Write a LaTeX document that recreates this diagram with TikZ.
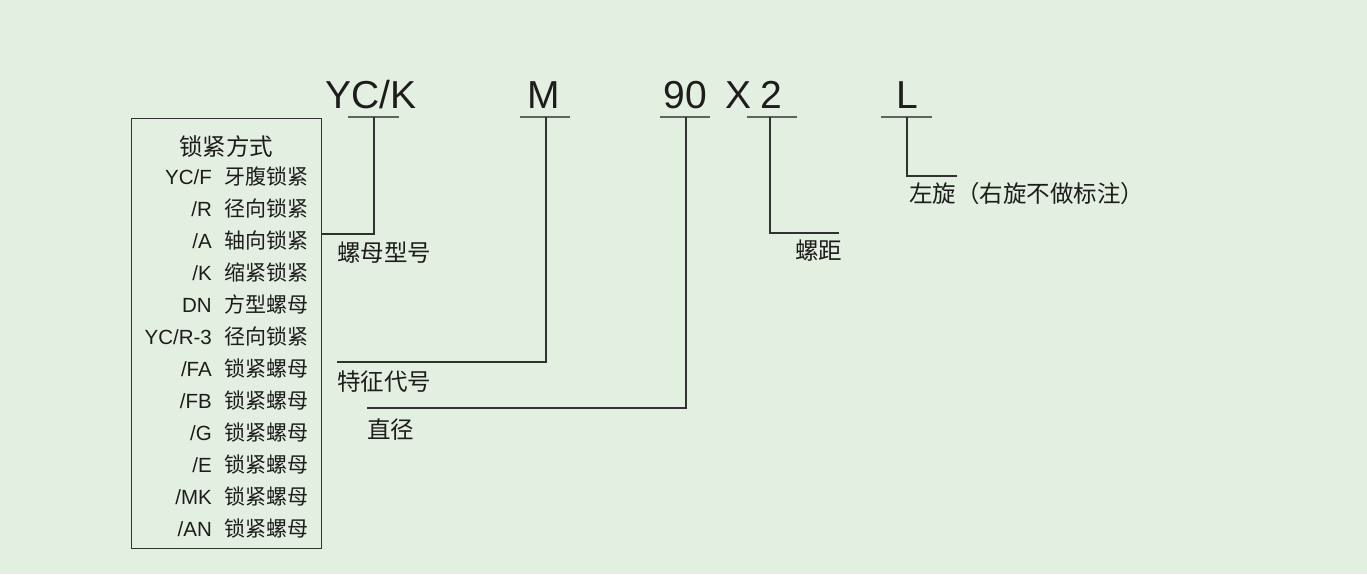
\documentclass[tikz,border=0pt]{standalone}
\usepackage{fontspec}
\setmainfont{Liberation Sans}
\newfontfamily\cjk{Noto Sans CJK SC}
\definecolor{bg}{RGB}{227,239,224}
\definecolor{ink}{RGB}{30,28,28}
\definecolor{ln}{RGB}{50,50,50}
\definecolor{ul}{RGB}{95,100,95}
\begin{document}
\begin{tikzpicture}[x=1pt,y=-1pt,
  code/.style={anchor=base,inner sep=0pt,text=ink,font=\fontsize{39}{39}\selectfont},
  lbl/.style={anchor=west,inner sep=0pt,text=ink,font=\fontsize{23.5}{23.5}\selectfont\cjk},
  rowlat/.style={anchor=base east,inner sep=0pt,text=ink,font=\fontsize{20.5}{20.5}\selectfont},
  rowcjk/.style={anchor=base west,inner sep=0pt,text=ink,font=\fontsize{21}{21}\selectfont\cjk},
  uline/.style={draw=ul,line width=1.8pt},
  conn/.style={draw=ln,line width=1.2pt},
  boxst/.style={draw=ln,line width=1.2pt,minimum width=190pt,minimum height=430pt,anchor=north west,inner sep=0pt}]
\fill[bg] (0,0) rectangle (1367,574);
\useasboundingbox (0,0) rectangle (1367,574);
% box
\node[boxst] (box) at (131,118) {};
\node[anchor=base,inner sep=0pt,text=ink,font=\fontsize{23.5}{23.5}\selectfont\cjk] (title) at (226,155) {锁紧方式};
\node[rowlat] (l1) at (212,184.5) {YC/F};   \node[rowcjk] (c1) at (224,184.5) {牙腹锁紧};
\node[rowlat] (l2) at (212,216.5) {/R};     \node[rowcjk] (c2) at (224,216.5) {径向锁紧};
\node[rowlat] (l3) at (212,248.5) {/A};     \node[rowcjk] (c3) at (224,248.5) {轴向锁紧};
\node[rowlat] (l4) at (212,280.5) {/K};     \node[rowcjk] (c4) at (224,280.5) {缩紧锁紧};
\node[rowlat] (l5) at (212,312.5) {DN};     \node[rowcjk] (c5) at (224,312.5) {方型螺母};
\node[rowlat] (l6) at (212,344.5) {YC/R-3}; \node[rowcjk] (c6) at (224,344.5) {径向锁紧};
\node[rowlat] (l7) at (212,376.5) {/FA};    \node[rowcjk] (c7) at (224,376.5) {锁紧螺母};
\node[rowlat] (l8) at (212,408.5) {/FB};    \node[rowcjk] (c8) at (224,408.5) {锁紧螺母};
\node[rowlat] (l9) at (212,440.5) {/G};     \node[rowcjk] (c9) at (224,440.5) {锁紧螺母};
\node[rowlat] (l10) at (212,472.5) {/E};    \node[rowcjk] (c10) at (224,472.5) {锁紧螺母};
\node[rowlat] (l11) at (212,504.5) {/MK};   \node[rowcjk] (c11) at (224,504.5) {锁紧螺母};
\node[rowlat] (l12) at (212,536.5) {/AN};   \node[rowcjk] (c12) at (224,536.5) {锁紧螺母};
% codes
\node[code] (yck) at (371,108) {YC/K};
\node[code] (m) at (544,108) {M};
\node[code] (d90) at (685,108) {90};
\node[code] (x) at (738.5,108) {X};
\node[code] (p2) at (771,108) {2};
\node[code] (l) at (907,108) {L};
% underlines
\draw[uline] (348,117) -- (399,117);
\draw[uline] (520,117) -- (570,117);
\draw[uline] (660,117) -- (710,117);
\draw[uline] (747,117) -- (797,117);
\draw[uline] (881,117) -- (932,117);
\coordinate (u1) at (374,117);
\coordinate (u2) at (546,117);
\coordinate (u3) at (686,117);
\coordinate (u4) at (770,117);
\coordinate (u5) at (907,117);
% labels
\node[lbl] (t1) at (337,253) {螺母型号};
\node[lbl] (t2) at (337,382) {特征代号};
\node[lbl] (t3) at (367,430) {直径};
\node[lbl] (t4) at (795,251) {螺距};
\node[lbl] (t5) at (909,194) {左旋（右旋不做标注）};
% connectors
\coordinate (e1) at (box.east |- 0,234);
\coordinate (e2) at (t2.west |- 0,362);
\coordinate (e3) at (t3.west |- 0,408);
\coordinate (e4) at (839,233);
\coordinate (e5) at (957,176);
\draw[conn] (u1) |- (e1);
\draw[conn] (u2) |- (e2);
\draw[conn] (u3) |- (e3);
\draw[conn] (u4) |- (e4);
\draw[conn] (u5) |- (e5);
\end{tikzpicture}
\end{document}
